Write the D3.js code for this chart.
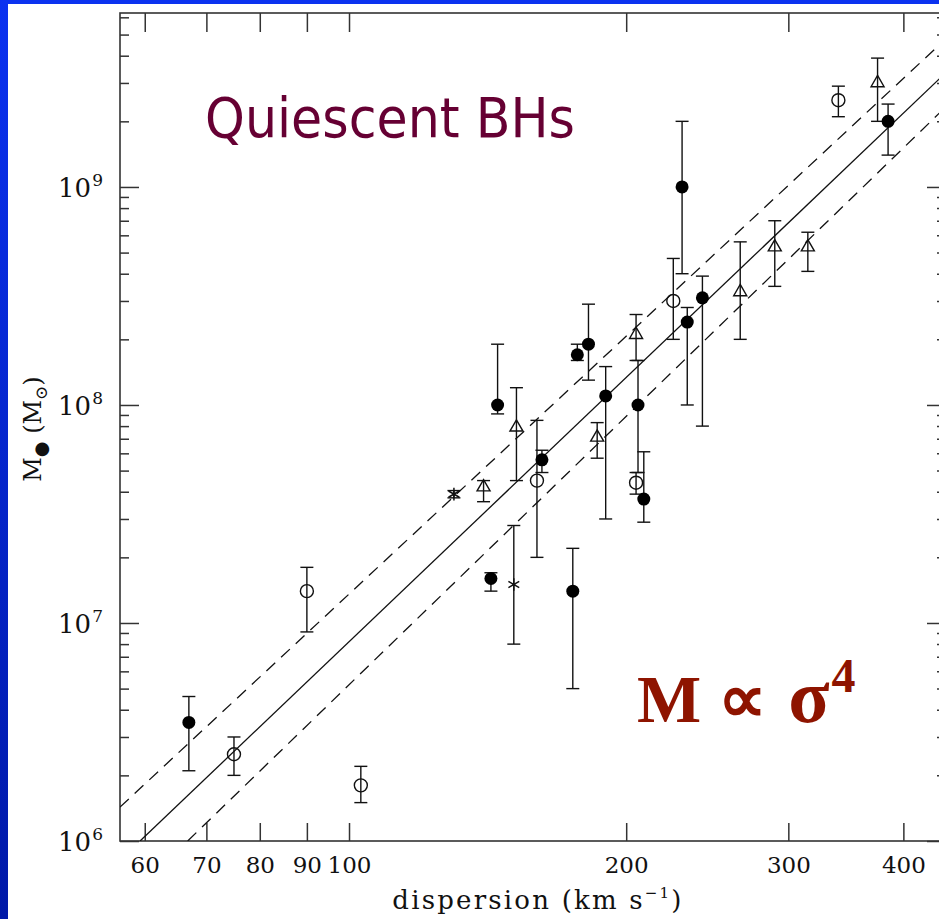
<!DOCTYPE html>
<html>
<head>
<meta charset="utf-8">
<script src="https://cdn.jsdelivr.net/npm/d3@7"></script>
<style>
  body { margin: 0; background: #fff; }
  svg { display: block; }
</style>
</head>
<body>
<div id="chart"></div>
<script>
// axis ticks
var xTicks = [60, 70, 80, 90, 100, 200, 300, 400];
var yMajor = [1e6, 1e7, 1e8, 1e9];
var yDecades = [1e6, 1e7, 1e8, 1e9];
var yMults = [2, 3, 4, 5, 6, 7, 8, 9];

// filled circles
var filledSigma = [67, 145, 142.6, 162, 177, 182, 190, 206, 209, 230, 233, 242, 385, 175];
var filledMass  = [3.5e6, 1.0e8, 1.6e7, 5.6e7, 1.7e8, 1.9e8, 1.1e8, 1.0e8, 3.7e7, 1.0e9, 2.4e8, 3.1e8, 2.0e9, 1.4e7];
var filledLo    = [2.1e6, 9.1e7, 1.4e7, 4.9e7, 1.6e8, 1.3e8, 3.0e7, 4.9e7, 2.9e7, 4.0e8, 1.0e8, 8.0e7, 1.4e9, 5.0e6];
var filledHi    = [4.6e6, 1.9e8, 1.7e7, 6.2e7, 1.9e8, 2.9e8, 1.5e8, 1.6e8, 6.1e7, 2.0e9, 2.8e8, 3.9e8, 2.4e9, 2.2e7];

// open circles
var openSigma = [75, 90, 103, 160, 205, 225, 340];
var openMass  = [2.5e6, 1.4e7, 1.8e6, 4.5e7, 4.4e7, 3.0e8, 2.5e9];
var openLo    = [2.0e6, 9.1e6, 1.5e6, 2.0e7, 3.9e7, 2.0e8, 2.1e9];
var openHi    = [3.0e6, 1.8e7, 2.2e6, 8.5e7, 4.9e7, 4.7e8, 2.9e9];

// open triangles
var triSigma = [140, 152, 186, 205, 266, 290, 315, 375];
var triMass  = [4.2e7, 7.9e7, 7.1e7, 2.1e8, 3.3e8, 5.3e8, 5.3e8, 3.0e9];
var triLo    = [3.6e7, 4.5e7, 5.7e7, 1.6e8, 2.0e8, 3.5e8, 4.1e8, 2.0e9];
var triHi    = [4.5e7, 1.2e8, 8.3e7, 2.6e8, 5.6e8, 7.0e8, 6.2e8, 3.9e9];

// asterisks
var starSigma = [130, 151];
var starMass  = [3.9e7, 1.5e7];
var starLo    = [3.75e7, 8.0e6];
var starHi    = [4.05e7, 2.8e7];

// fit lines (end points)
var fitSigma   = [59.3, 437.6];
var fitMass    = [1.0e6, 3.13e9];
var upperSigma = [56.4, 437.6];
var upperMass  = [1.43e6, 4.48e9];
var lowerSigma = [66.8, 437.6];
var lowerMass  = [1.0e6, 2.18e9];

var width = 939, height = 919;
var plotL = 120, plotR = 946, plotT = 13, plotB = 841;

var svg = d3.select("#chart").append("svg")
    .attr("width", width).attr("height", height);

var defs = svg.append("defs");
var grad = defs.append("linearGradient").attr("id", "bg")
    .attr("x1", 0).attr("y1", 0).attr("x2", 0).attr("y2", 1);
grad.append("stop").attr("offset", "0%").attr("stop-color", "#0b32f0");
grad.append("stop").attr("offset", "100%").attr("stop-color", "#0019a8");
defs.append("clipPath").attr("id", "plotclip").append("rect")
    .attr("x", plotL).attr("y", plotT).attr("width", plotR - plotL).attr("height", plotB - plotT);

svg.append("rect").attr("width", width).attr("height", height).attr("fill", "url(#bg)");
svg.append("rect").attr("x", 8).attr("y", 4).attr("width", width - 8).attr("height", height - 4).attr("fill", "#fff");

var x = d3.scaleLog().domain([56.4, 445]).range([plotL, plotR]);
var y = d3.scaleLog().domain([1e6, 6.28e9]).range([plotB, plotT]);

var yMinor = [];
yDecades.forEach(function(d){ yMults.forEach(function(m){ if (d*m <= 6.28e9) yMinor.push(d*m); }); });

var axisColor = "#333";
var tickFont = "'DejaVu Serif', serif";

// bottom axis
var gx = svg.append("g").attr("transform", "translate(0," + plotB + ")")
    .call(d3.axisBottom(x).tickValues(xTicks).tickSizeInner(-18).tickSizeOuter(0).tickPadding(16)
        .tickFormat(d3.format("d")));
gx.selectAll("text").attr("font-family", tickFont).attr("font-size", 23).attr("fill", "#111");

// top axis
svg.append("g").attr("transform", "translate(0," + plotT + ")")
    .call(d3.axisTop(x).tickValues(xTicks).tickSizeInner(-19).tickSizeOuter(0).tickFormat(""));

// left axis majors + minors
svg.append("g").attr("transform", "translate(" + plotL + ",0)")
    .call(d3.axisLeft(y).tickValues(yMajor).tickSizeInner(-19).tickSizeOuter(0).tickFormat(""));
svg.append("g").attr("transform", "translate(" + plotL + ",0)")
    .call(d3.axisLeft(y).tickValues(yMinor).tickSizeInner(-9).tickSizeOuter(0).tickFormat(""));
// right axis
svg.append("g").attr("transform", "translate(" + plotR + ",0)")
    .call(d3.axisRight(y).tickValues(yMajor).tickSizeInner(-19).tickSizeOuter(0).tickFormat(""));
svg.append("g").attr("transform", "translate(" + plotR + ",0)")
    .call(d3.axisRight(y).tickValues(yMinor).tickSizeInner(-9).tickSizeOuter(0).tickFormat(""));

svg.selectAll(".domain").remove();
svg.selectAll(".tick line").attr("stroke", axisColor).attr("stroke-width", 1.5);

// frame
svg.append("rect").attr("x", plotL).attr("y", plotT).attr("width", plotR - plotL).attr("height", plotB - plotT)
    .attr("fill", "none").attr("stroke", axisColor).attr("stroke-width", 1.6);

// y tick labels 10^n
var ylab = svg.append("g");
yMajor.forEach(function(v){
  var t = ylab.append("text")
      .attr("x", 103).attr("y", y(v) + 10)
      .attr("text-anchor", "end")
      .attr("font-family", tickFont).attr("font-size", 26).attr("fill", "#111");
  t.append("tspan").text("10");
  t.append("tspan").attr("font-size", 17).attr("dx", 1).attr("dy", -11).text(Math.round(Math.log10(v)));
});

// axis titles
var xt = svg.append("text").attr("x", 538).attr("y", 909).attr("text-anchor", "middle")
    .attr("font-family", tickFont).attr("font-size", 26).attr("letter-spacing", 2.2).attr("fill", "#111");
xt.append("tspan").text("dispersion (km s");
xt.append("tspan").attr("font-size", 15).attr("dy", -11).text("−1");
xt.append("tspan").attr("dy", 11).text(")");

var yt = svg.append("text").attr("transform", "translate(41,429) rotate(-90)")
    .attr("text-anchor", "middle")
    .attr("font-family", tickFont).attr("font-size", 24).attr("fill", "#111");
yt.append("tspan").text("M");
yt.append("tspan").attr("font-size", 18).attr("dy", 6).text("●");
yt.append("tspan").attr("dy", -6).text(" (M");
yt.append("tspan").attr("font-size", 17).attr("dy", 6).text("⊙");
yt.append("tspan").attr("dy", -6).text(")");

// plot content
var plot = svg.append("g").attr("clip-path", "url(#plotclip)");

var line = d3.line().x(function(d){ return x(d[0]); }).y(function(d){ return y(d[1]); });
plot.append("path").datum(d3.zip(fitSigma, fitMass)).attr("d", line)
    .attr("fill", "none").attr("stroke", "#111").attr("stroke-width", 1.3);
plot.append("path").datum(d3.zip(upperSigma, upperMass)).attr("d", line)
    .attr("fill", "none").attr("stroke", "#111").attr("stroke-width", 1.3).attr("stroke-dasharray", "12,8");
plot.append("path").datum(d3.zip(lowerSigma, lowerMass)).attr("d", line)
    .attr("fill", "none").attr("stroke", "#111").attr("stroke-width", 1.3).attr("stroke-dasharray", "12,8");

function errorBars(sig, lo, hi) {
  var g = plot.append("g").attr("stroke", "#111").attr("stroke-width", 1.4);
  var data = d3.zip(sig, lo, hi);
  g.selectAll("line.v").data(data).enter().append("line")
      .attr("x1", function(d){ return x(d[0]); }).attr("x2", function(d){ return x(d[0]); })
      .attr("y1", function(d){ return y(d[1]); }).attr("y2", function(d){ return y(d[2]); });
  g.selectAll("line.lo").data(data).enter().append("line")
      .attr("x1", function(d){ return x(d[0]) - 6.5; }).attr("x2", function(d){ return x(d[0]) + 6.5; })
      .attr("y1", function(d){ return y(d[1]); }).attr("y2", function(d){ return y(d[1]); });
  g.selectAll("line.hi").data(data).enter().append("line")
      .attr("x1", function(d){ return x(d[0]) - 6.5; }).attr("x2", function(d){ return x(d[0]) + 6.5; })
      .attr("y1", function(d){ return y(d[2]); }).attr("y2", function(d){ return y(d[2]); });
}
errorBars(filledSigma, filledLo, filledHi);
errorBars(openSigma, openLo, openHi);
errorBars(triSigma, triLo, triHi);
errorBars(starSigma, starLo, starHi);

plot.append("g").selectAll("circle").data(d3.zip(filledSigma, filledMass)).enter().append("circle")
    .attr("cx", function(d){ return x(d[0]); }).attr("cy", function(d){ return y(d[1]); })
    .attr("r", 6.5).attr("fill", "#000");

plot.append("g").selectAll("circle").data(d3.zip(openSigma, openMass)).enter().append("circle")
    .attr("cx", function(d){ return x(d[0]); }).attr("cy", function(d){ return y(d[1]); })
    .attr("r", 6.5).attr("fill", "none").attr("stroke", "#111").attr("stroke-width", 1.4);

var triSym = d3.symbol(d3.symbolTriangle2, 121);
plot.append("g").selectAll("path").data(d3.zip(triSigma, triMass)).enter().append("path")
    .attr("d", triSym)
    .attr("transform", function(d){ return "translate(" + x(d[0]) + "," + y(d[1]) + ")"; })
    .attr("fill", "none").attr("stroke", "#111").attr("stroke-width", 1.4);

var starSym = d3.symbol(d3.symbolAsterisk, 110);
plot.append("g").selectAll("path").data(d3.zip(starSigma, starMass)).enter().append("path")
    .attr("d", starSym)
    .attr("transform", function(d){ return "translate(" + x(d[0]) + "," + y(d[1]) + ")"; })
    .attr("fill", "none").attr("stroke", "#111").attr("stroke-width", 1.5);

// annotations
svg.append("text").attr("x", 205).attr("y", 137)
    .attr("font-family", "'DejaVu Sans', sans-serif").attr("font-size", 56)
    .attr("textLength", 370).attr("lengthAdjust", "spacingAndGlyphs")
    .attr("fill", "#660033").text("Quiescent BHs");

var law = svg.append("text").attr("x", 637).attr("y", 722)
    .attr("font-family", "'Liberation Serif', 'Times New Roman', serif").attr("font-weight", "bold")
    .attr("font-size", 68).attr("fill", "#8e1400");
law.append("tspan").text("M ∝ ");
law.append("tspan").attr("font-size", 76).attr("dx", 4).text("σ");
law.append("tspan").attr("font-size", 48).attr("dx", 2).attr("dy", -30).text("4");
</script>
</body>
</html>
